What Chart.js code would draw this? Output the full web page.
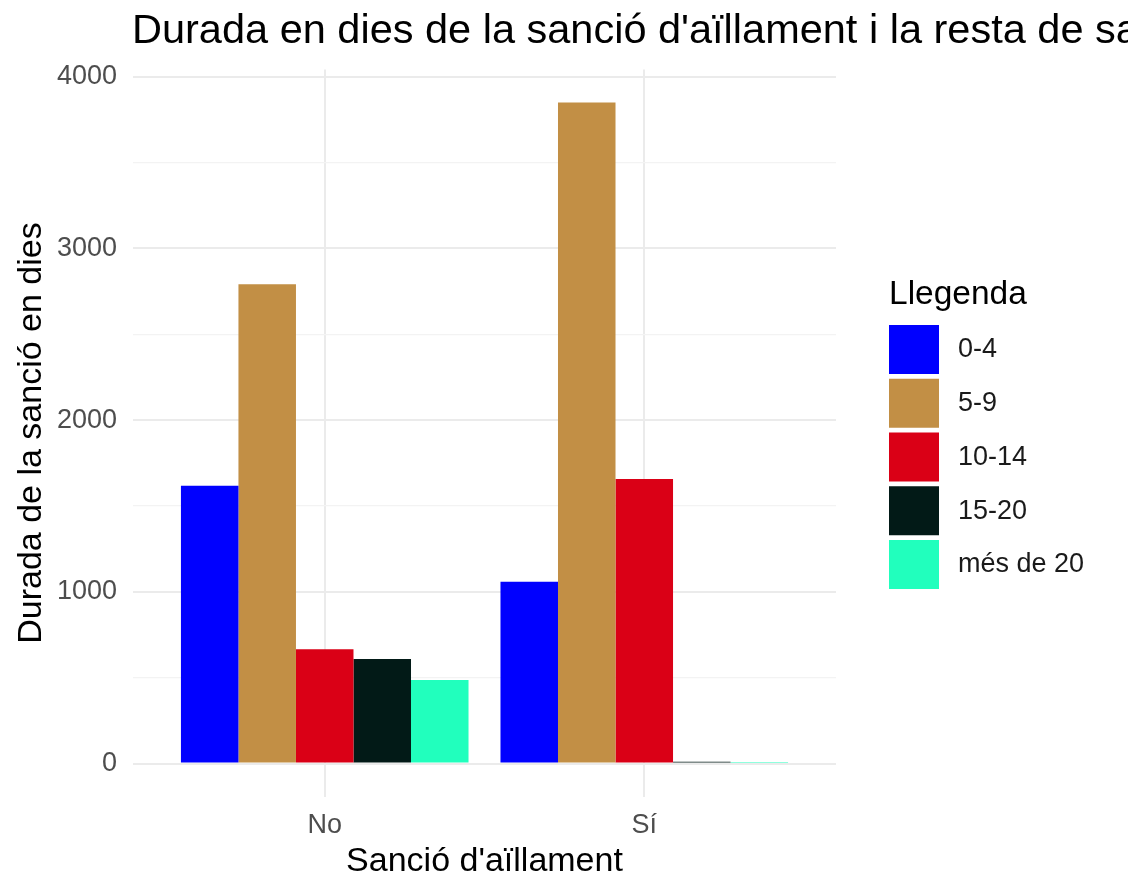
<!DOCTYPE html>
<html>
<head>
<meta charset="utf-8">
<script src="https://cdn.jsdelivr.net/npm/chart.js@4.4.1/dist/chart.umd.min.js"></script>
<style>
  html, body { margin: 0; padding: 0; background: #fff; }
  #wrap { width: 1128px; height: 872px; }
</style>
</head>
<body>
<div id="wrap"><canvas id="sancioChart" width="1128" height="872"></canvas></div>
<script>
// --- DATA ---
const categories = ['No', 'Sí'];
const groups = ['0-4', '5-9', '10-14', '15-20', 'més de 20'];
const values04 = [1618, 1059];
const values59 = [2791, 3849];
const values1014 = [665, 1657];
const values1520 = [609, 10];
const valuesMes20 = [486, 3];
const yTicks = [0, 500, 1000, 1500, 2000, 2500, 3000, 3500, 4000];

const groupColors = ['#0000FF', '#C28F45', '#DA0016', '#021A17', '#21FFBD'];
const FONT = '"Liberation Sans", Arial, Helvetica, sans-serif';

function toPoints(vals) {
    return categories.map((c, i) => ({ x: i + 1, y: vals[i] }));
}

// Title drawn from the chart area's left edge, clipped by the canvas like the original
const titlePlugin = {
    id: 'leftTitle',
    afterDraw(chart) {
        const ctx = chart.ctx;
        ctx.save();
        ctx.font = '41.5px ' + FONT;
        ctx.fillStyle = '#000';
        ctx.textBaseline = 'alphabetic';
        ctx.textAlign = 'left';
        ctx.fillText("Durada en dies de la sanció d'aïllament i la resta de sancions", chart.chartArea.left - 1, 43);
        ctx.restore();
    }
};

// ggplot-style legend to the right of the panel
const legendPlugin = {
    id: 'sideLegend',
    afterDraw(chart) {
        const ctx = chart.ctx;
        const x0 = chart.chartArea.right + 53;
        ctx.save();
        ctx.fillStyle = '#000';
        ctx.font = '33.5px ' + FONT;
        ctx.textAlign = 'left';
        ctx.textBaseline = 'alphabetic';
        ctx.fillText('Llegenda', x0, 304);
        chart.data.datasets.forEach((ds, i) => {
            const top = 325 + i * 53.75;
            ctx.fillStyle = ds.backgroundColor;
            ctx.fillRect(x0, top, 50, 49);
            ctx.fillStyle = '#1a1a1a';
            ctx.font = '27px ' + FONT;
            ctx.textBaseline = 'middle';
            ctx.fillText(ds.label, x0 + 69, top + 25);
        });
        ctx.restore();
    }
};

const seriesValues = [values04, values59, values1014, values1520, valuesMes20];

const ctx1 = document.getElementById('sancioChart').getContext('2d');
new Chart(ctx1, {
    type: 'bar',
    data: {
        datasets: groups.map((g, i) => ({
            label: g,
            data: toPoints(seriesValues[i]),
            backgroundColor: groupColors[i],
            borderWidth: 0,
            categoryPercentage: 0.9,
            barPercentage: 1.0
        }))
    },
    options: {
        responsive: false,
        animation: false,
        layout: { padding: { top: 69.6, right: 292, left: 0, bottom: 0 } },
        plugins: {
            legend: { display: false },
            title: { display: false },
            tooltip: { enabled: false }
        },
        scales: {
            x: {
                type: 'linear',
                min: 0.4,
                max: 2.6,
                offset: false,
                afterBuildTicks(scale) {
                    scale.ticks = categories.map((c, i) => ({ value: i + 1 }));
                },
                afterFit(scale) { scale.height = 75.5; },
                border: { display: false },
                grid: { color: '#EBEBEB', lineWidth: 2, drawTicks: false, offset: false },
                ticks: {
                    padding: 13,
                    color: '#4D4D4D',
                    font: { family: FONT, size: 27 },
                    callback: (v) => categories[v - 1] || ''
                },
                title: {
                    display: true,
                    text: "Sanció d'aïllament",
                    color: '#000',
                    font: { family: FONT, size: 34, lineHeight: 0.62 },
                    padding: { top: 0, bottom: 0 }
                }
            },
            y: {
                type: 'linear',
                min: -192,
                max: 4041,
                afterBuildTicks(scale) {
                    scale.ticks = yTicks.map(v => ({ value: v }));
                },
                afterFit(scale) { scale.width = 133; },
                border: { display: false },
                grid: {
                    drawTicks: false,
                    color: (c) => (c.tick && c.tick.value % 1000 === 0) ? '#EBEBEB' : '#F3F3F3',
                    lineWidth: (c) => (c.tick && c.tick.value % 1000 === 0) ? 2 : 1.3
                },
                ticks: {
                    padding: 16,
                    color: '#4D4D4D',
                    font: { family: FONT, size: 27 },
                    callback: (v) => (v % 1000 === 0 ? String(v) : '')
                },
                title: {
                    display: true,
                    text: 'Durada de la sanció en dies',
                    color: '#000',
                    font: { family: FONT, size: 34, lineHeight: 1 },
                    padding: { top: 14.5, bottom: 0 }
                }
            }
        }
    },
    plugins: [titlePlugin, legendPlugin]
});
</script>
</body>
</html>
